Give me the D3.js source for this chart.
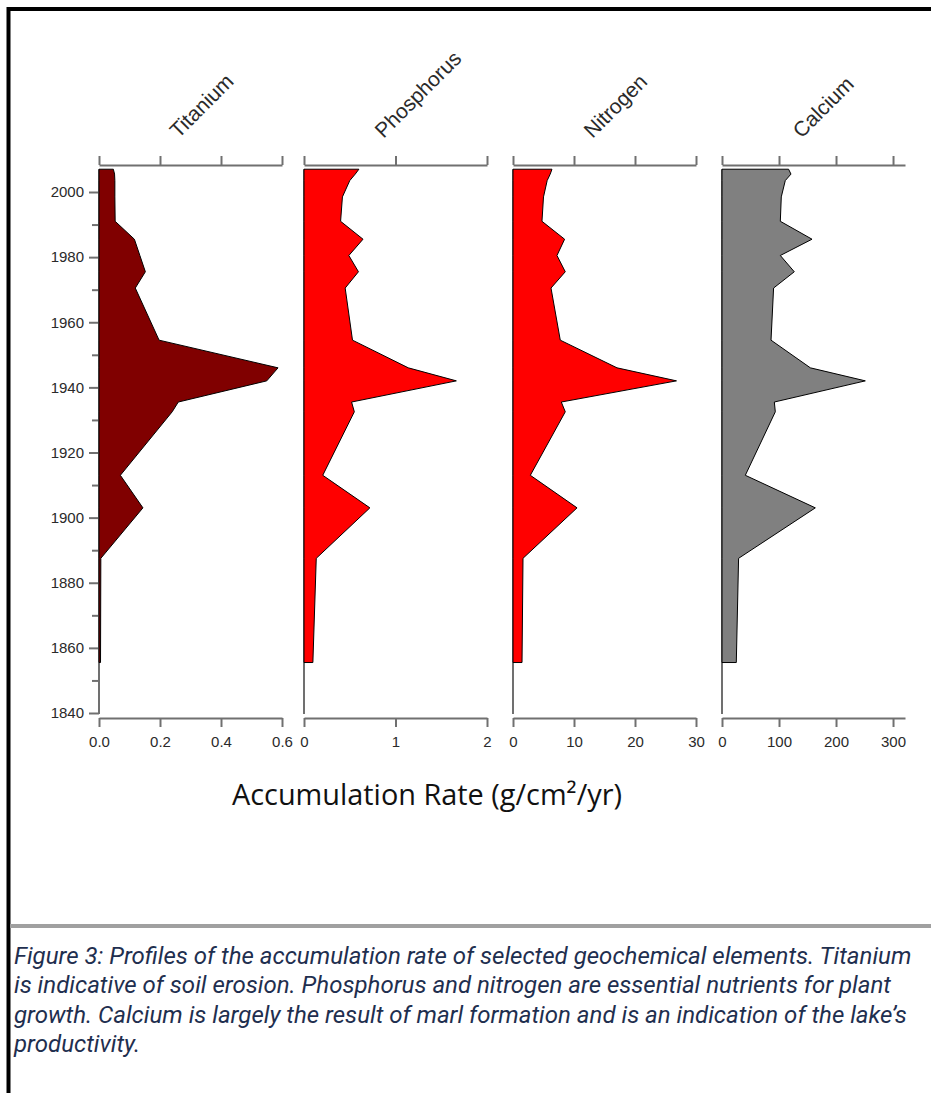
<!DOCTYPE html>
<html>
<head>
<meta charset="utf-8">
<script src="https://cdn.jsdelivr.net/npm/d3@7"></script>
<style>
  body { margin: 0; background: #fff; }
  svg { display: block; }
</style>
</head>
<body>
<svg id="chart" width="931" height="1093"></svg>
<script>

// Data
const years      = [2007, 2005.5, 2003.5, 1998.5, 1991, 1985.5, 1980.5, 1975.5, 1970.5, 1954.5, 1946, 1942, 1935.5, 1932.5, 1913, 1903, 1887.5, 1855.5];
const titanium   = [0.047, 0.051, 0.052, 0.052, 0.053, 0.116, 0.134, 0.152, 0.119, 0.197, 0.587, 0.55, 0.26, 0.24, 0.07, 0.144, 0.006, 0.005];
const phosphorus = [0.60, 0.56, 0.50, 0.42, 0.40, 0.645, 0.49, 0.595, 0.45, 0.53, 1.14, 1.665, 0.52, 0.55, 0.205, 0.72, 0.134, 0.097];
const nitrogen   = [6.39, 6.1, 5.6, 5.0, 4.75, 8.46, 7.21, 8.57, 6.23, 7.75, 17.05, 26.8, 7.92, 8.57, 2.84, 10.5, 1.64, 1.48];
const calcium    = [116.8, 121, 111, 104, 102.3, 157.9, 102.3, 126.8, 90.5, 86, 155, 251.4, 91.8, 93.5, 40.9, 163.7, 29.1, 25.1];

const elements   = ['Titanium', 'Phosphorus', 'Nitrogen', 'Calcium'];
const series     = [titanium, phosphorus, nitrogen, calcium];
const xMax       = [0.6, 2, 30, 321];
const xTicks     = [[0, 0.2, 0.4, 0.6], [0, 1, 2], [0, 10, 20, 30], [0, 100, 200, 300]];
const xFormats   = ['.1f', 'd', 'd', 'd'];

const yearMajor  = [1840, 1860, 1880, 1900, 1920, 1940, 1960, 1980, 2000];
const yearMinor  = [1850, 1870, 1890, 1910, 1930, 1950, 1970, 1990];
const yearTop    = 2007;
const yearBottom = 1840;

const axisTitle  = 'Accumulation Rate (g/cm\u00B2/yr)';
const caption    = [
    'Figure 3: Profiles of the accumulation rate of selected geochemical elements. Titanium',
    'is indicative of soil erosion. Phosphorus and nitrogen are essential nutrients for plant',
    'growth. Calcium is largely the result of marl formation and is an indication of the lake\u2019s',
    'productivity.'
];

// Layout / style constants
const PANEL_LEFT  = [99, 304, 513, 722];
const PANEL_WIDTH = 183;
const FILLS       = ['#800000', '#ff0000', '#ff0000', '#808080'];
const AXIS_COLOR  = '#707070';
const TEXT_COLOR  = '#2a2a2a';
const TICK_FONT   = '15px "Liberation Sans", Arial, sans-serif';
const TOP_AXIS_Y  = 165;
const BOT_AXIS_Y  = 718;

const svg = d3.select('#chart');

// Frame
svg.append('line')
    .attr('x1', 8.5).attr('x2', 8.5).attr('y1', 7).attr('y2', 1093)
    .attr('stroke', '#000').attr('stroke-width', 4);
svg.append('line')
    .attr('x1', 7).attr('x2', 931).attr('y1', 9).attr('y2', 9)
    .attr('stroke', '#000').attr('stroke-width', 4);
svg.append('line')
    .attr('x1', 10).attr('x2', 931).attr('y1', 926).attr('y2', 926)
    .attr('stroke', '#a0a0a0').attr('stroke-width', 4);

// Year scale
const y = d3.scaleLinear().domain([1840, 2000]).range([713, 192]);

function styleAxis(g) {
    g.selectAll('path.domain').attr('stroke', AXIS_COLOR).attr('stroke-width', 2);
    g.selectAll('.tick line').attr('stroke', AXIS_COLOR).attr('stroke-width', 2);
    g.selectAll('.tick text').attr('fill', TEXT_COLOR).style('font', TICK_FONT);
}

// Year axis (major + minor ticks)
const yAxis = svg.append('g')
    .attr('transform', `translate(${PANEL_LEFT[0]},0)`)
    .call(d3.axisLeft(y).tickValues(yearMajor).tickSize(10).tickPadding(5).tickFormat(d3.format('d')))
    .call(styleAxis);
yAxis.select('path.domain').remove();

svg.append('g')
    .attr('transform', `translate(${PANEL_LEFT[0]},0)`)
    .call(d3.axisLeft(y).tickValues(yearMinor).tickSize(7).tickFormat(''))
    .call(styleAxis)
    .select('path.domain').remove();

// Panels
elements.forEach((name, i) => {
    const x0 = PANEL_LEFT[i];
    const x = d3.scaleLinear().domain([0, xMax[i]]).range([x0, x0 + PANEL_WIDTH]);
    const panel = svg.append('g').attr('class', 'panel');

    // Vertical baseline
    panel.append('line')
        .attr('x1', x(0)).attr('x2', x(0))
        .attr('y1', y(yearTop)).attr('y2', y(yearBottom) + 1)
        .attr('stroke', AXIS_COLOR).attr('stroke-width', 2);

    // Top axis (no labels)
    panel.append('g')
        .attr('transform', `translate(0,${TOP_AXIS_Y})`)
        .call(d3.axisTop(x).tickValues(xTicks[i]).tickSize(9).tickSizeOuter(0).tickFormat(''))
        .call(styleAxis);

    // Bottom axis
    panel.append('g')
        .attr('transform', `translate(0,${BOT_AXIS_Y})`)
        .call(d3.axisBottom(x).tickValues(xTicks[i]).tickSize(9).tickSizeOuter(0).tickPadding(9).tickFormat(d3.format(xFormats[i])))
        .call(styleAxis);

    // Profile
    const area = d3.area()
        .x0(x(0))
        .x1((d) => x(d.v))
        .y((d) => y(d.year));
    panel.append('path')
        .datum(years.map((yr, k) => ({ year: yr, v: series[i][k] })))
        .attr('d', area)
        .attr('fill', FILLS[i])
        .attr('stroke', '#000')
        .attr('stroke-width', 1)
        .attr('stroke-linejoin', 'round');

    // Rotated title
    panel.append('text')
        .attr('transform', `translate(${x0 + PANEL_WIDTH / 2 - 12},139) rotate(-45)`)
        .attr('fill', TEXT_COLOR)
        .style('font', '21px "Liberation Sans", Arial, sans-serif')
        .text(name);
});

// Axis title, fitted to the reference width
const title = svg.append('text')
    .attr('x', 427).attr('y', 805)
    .attr('text-anchor', 'middle')
    .attr('fill', '#111')
    .style('font-family', '"Open Sans", sans-serif')
    .style('font-size', '22px')
    .text(axisTitle);
const tw = title.node().getComputedTextLength();
title.style('font-size', (22 * 390 / tw) + 'px');

// Caption, font size fitted so the first line spans the reference width
const cap = svg.append('g')
    .style('font-family', 'Roboto, "Open Sans", sans-serif')
    .style('font-style', 'italic')
    .style('font-size', '20px')
    .attr('fill', '#1f2f4f');
const capLines = cap.selectAll('text').data(caption).enter().append('text')
    .attr('x', 14)
    .attr('y', (d, k) => 964 + k * 29.3)
    .text((d) => d);
const l1 = capLines.node().getComputedTextLength();
cap.style('font-size', (20 * 898 / l1) + 'px');

</script>
</body>
</html>
